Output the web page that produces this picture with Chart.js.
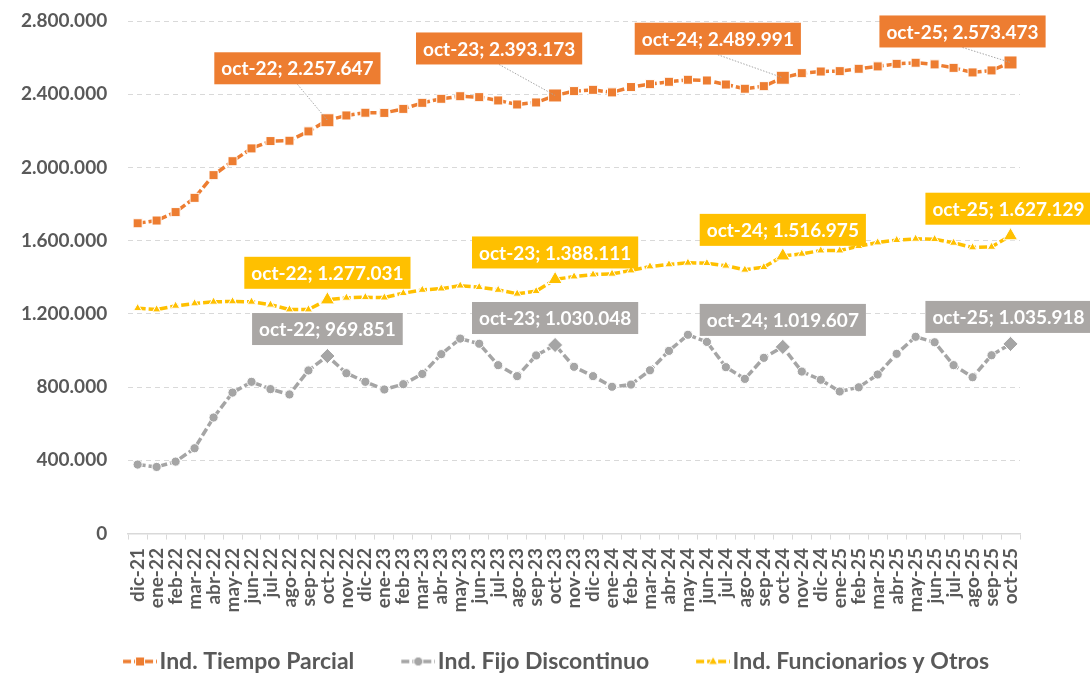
<!DOCTYPE html>
<html>
<head>
<meta charset="utf-8">
<script src="https://cdn.jsdelivr.net/npm/chart.js@4.4.1/dist/chart.umd.min.js"></script>
<style>
  html, body { margin: 0; padding: 0; background: #fff; }
  #wrap { width: 1090px; height: 675px; }
</style>
</head>
<body>
<div id="wrap"><canvas id="chart" width="1090" height="675"></canvas></div>
<script>
// Months, dic-21 .. oct-25
const labels = [
    'dic-21',
    'ene-22', 'feb-22', 'mar-22', 'abr-22', 'may-22', 'jun-22', 'jul-22', 'ago-22', 'sep-22', 'oct-22', 'nov-22', 'dic-22',
    'ene-23', 'feb-23', 'mar-23', 'abr-23', 'may-23', 'jun-23', 'jul-23', 'ago-23', 'sep-23', 'oct-23', 'nov-23', 'dic-23',
    'ene-24', 'feb-24', 'mar-24', 'abr-24', 'may-24', 'jun-24', 'jul-24', 'ago-24', 'sep-24', 'oct-24', 'nov-24', 'dic-24',
    'ene-25', 'feb-25', 'mar-25', 'abr-25', 'may-25', 'jun-25', 'jul-25', 'ago-25', 'sep-25', 'oct-25'
];

const tiempoParcial = [
    1695000,
    1710000, 1756000, 1834000, 1958000, 2034000, 2104000, 2144000, 2146000, 2197000, 2257647, 2284000, 2299000,
    2298000, 2320000, 2353000, 2375000, 2389000, 2384000, 2366000, 2344000, 2355000, 2393173, 2417000, 2424000,
    2410000, 2439000, 2455000, 2468000, 2479000, 2475000, 2453000, 2430000, 2444000, 2489991, 2515000, 2524000,
    2526000, 2539000, 2552000, 2566000, 2572000, 2563000, 2544000, 2519000, 2530000, 2573473
];

const fijoDiscontinuo = [
    377000,
    364000, 393000, 466000, 634000, 770000, 829000, 789000, 760000, 891000, 969851, 876000, 829000,
    787000, 816000, 872000, 980000, 1065000, 1037000, 920000, 860000, 973000, 1030048, 911000, 860000,
    802000, 814000, 892000, 998000, 1086000, 1047000, 909000, 845000, 960000, 1019607, 885000, 840000,
    776000, 799000, 869000, 982000, 1075000, 1045000, 920000, 854000, 974000, 1035918
];

const funcionarios = [
    1231000,
    1224000, 1244000, 1257000, 1266000, 1268000, 1266000, 1250000, 1224000, 1224000, 1277031, 1288000, 1291000,
    1289000, 1313000, 1331000, 1338000, 1354000, 1346000, 1331000, 1310000, 1324000, 1388111, 1404000, 1415000,
    1419000, 1437000, 1459000, 1470000, 1479000, 1477000, 1463000, 1441000, 1455000, 1516975, 1528000, 1546000,
    1546000, 1570000, 1590000, 1603000, 1610000, 1608000, 1588000, 1563000, 1566000, 1627129
];

const seriesNames = ['Ind. Tiempo Parcial', 'Ind. Fijo Discontinuo', 'Ind. Funcionarios y Otros'];
const yMin = 0;
const yMax = 2800000;
const yStep = 400000;

const FONT = 'Lato, "Noto Sans", sans-serif';
const TEXT = '#595959';

// october points get a bigger marker and a callout
const isOct = i => labels[i].startsWith('oct');

function fmt(v) {
    return String(v).replace(/\B(?=(\d{3})+(?!\d))/g, '.');
}

const seriesStyle = [
    { color: '#ed7d31', shape: 'rect', r: 6.4, bigShape: 'rect', bigR: 9.2, box: '#ed7d31' },
    { color: '#a5a5a5', shape: 'circle', r: 4.6, bigShape: 'rectRot', bigR: 7.6, box: '#aaa7a5' },
    { color: '#ffc000', shape: 'triangle', r: 4.8, bigShape: 'triangle', bigR: 8.2, box: '#ffc000' }
];

// callout box centre relative to the point, one per october
const calloutOffsets = [
    [[-30, -52], [-56, -47], [-65, -39], [-48, -31]],
    [[0, -27], [0, -27], [0, -27], [-2, -27]],
    [[0, -27], [0, -27], [0, -26], [-2, -27]]
];

// nudge of the legend row after layout
const legendShift = { x: 33, y: 8 };

function makeDataset(name, data, st) {
    return {
        label: name,
        data: data,
        borderColor: st.color,
        backgroundColor: st.color,
        borderWidth: 3.5,
        borderDash: [8, 3],
        tension: 0,
        pointStyle: labels.map((_, i) => isOct(i) ? st.bigShape : st.shape),
        pointRadius: labels.map((_, i) => isOct(i) ? st.bigR : st.r),
        pointBackgroundColor: st.color,
        pointBorderColor: '#ffffff',
        pointBorderWidth: 1,
        pointHoverRadius: 0
    };
}

// legend symbol: dashed line with the marker in the middle.
// the canvas is wider than the legend box so the symbol sits close to the text
const ICON_W = 51;
const ICON_OVER = 9;
function legendIcon(st) {
    const c = document.createElement('canvas');
    c.width = ICON_W + 2 * ICON_OVER;
    c.height = 20;
    const g = c.getContext('2d');
    const x1 = c.width, x0 = x1 - 34, cy = 10, cx = (x0 + x1) / 2;
    g.strokeStyle = st.color;
    g.lineWidth = 3.5;
    g.setLineDash([8, 3]);
    g.beginPath();
    g.moveTo(x0, cy);
    g.lineTo(x1, cy);
    g.stroke();
    g.setLineDash([]);
    g.fillStyle = st.color;
    g.strokeStyle = '#ffffff';
    g.lineWidth = 1;
    g.beginPath();
    if (st.shape === 'rect') {
        g.rect(cx - 4.5, cy - 4.5, 9, 9);
    } else if (st.shape === 'circle') {
        g.arc(cx, cy, 4.6, 0, Math.PI * 2);
    } else {
        g.moveTo(cx, cy - 5);
        g.lineTo(cx + 4.5, cy + 3);
        g.lineTo(cx - 4.5, cy + 3);
        g.closePath();
    }
    g.fill();
    g.stroke();
    return c;
}

const legendNudge = {
    id: 'legendNudge',
    afterLayout(chart) {
        const lg = chart.legend;
        lg.left += legendShift.x;
        lg.right += legendShift.x;
        lg.top += legendShift.y;
        lg.bottom += legendShift.y;
    }
};

const calloutPlugin = {
    id: 'callouts',
    afterDatasetsDraw(chart) {
        const ctx = chart.ctx;
        ctx.save();
        ctx.font = 'bold 19px ' + FONT;
        ctx.textAlign = 'center';
        ctx.textBaseline = 'middle';
        chart.data.datasets.forEach((ds, di) => {
            const meta = chart.getDatasetMeta(di);
            const st = seriesStyle[di];
            let k = 0;
            labels.forEach((lab, i) => {
                if (!isOct(i)) return;
                const pt = meta.data[i];
                const off = calloutOffsets[di][k++];
                const text = lab + '; ' + fmt(ds.data[i]);
                const w = ctx.measureText(text).width + 14;
                const h = 32;
                const cx = pt.x + off[0];
                const cy = pt.y + off[1];
                if (di === 0) {
                    ctx.strokeStyle = '#a6a6a6';
                    ctx.lineWidth = 1;
                    ctx.setLineDash([1.5, 1.5]);
                    ctx.beginPath();
                    ctx.moveTo(cx, cy + h / 2);
                    ctx.lineTo(pt.x, pt.y);
                    ctx.stroke();
                    ctx.setLineDash([]);
                }
                ctx.fillStyle = st.box;
                ctx.fillRect(cx - w / 2, cy - h / 2, w, h);
                ctx.fillStyle = '#ffffff';
                ctx.fillText(text, cx, cy + 1);
            });
        });
        ctx.restore();
    }
};

new Chart(document.getElementById('chart'), {
    type: 'line',
    data: {
        labels: labels,
        datasets: [
            makeDataset(seriesNames[0], tiempoParcial, seriesStyle[0]),
            makeDataset(seriesNames[1], fijoDiscontinuo, seriesStyle[1]),
            makeDataset(seriesNames[2], funcionarios, seriesStyle[2])
        ]
    },
    options: {
        responsive: false,
        animation: false,
        devicePixelRatio: 1,
        layout: { autoPadding: false, padding: { left: 0, right: 70, top: 21, bottom: 0 } },
        plugins: {
            tooltip: { enabled: false },
            legend: {
                position: 'bottom',
                labels: {
                    usePointStyle: true,
                    pointStyleWidth: ICON_W,
                    padding: 21,
                    color: TEXT,
                    font: { family: FONT, size: 23, weight: 'bold' },
                    generateLabels(chart) {
                        return chart.data.datasets.map((ds, i) => ({
                            text: ds.label,
                            pointStyle: legendIcon(seriesStyle[i]),
                            fillStyle: ds.borderColor,
                            strokeStyle: ds.borderColor,
                            lineWidth: 0,
                            fontColor: TEXT,
                            hidden: false,
                            datasetIndex: i
                        }));
                    }
                }
            }
        },
        scales: {
            x: {
                offset: true,
                grid: {
                    offset: true,
                    drawOnChartArea: false,
                    drawTicks: true,
                    tickLength: 6,
                    color: '#d9d9d9'
                },
                border: { color: '#d9d9d9', width: 1.5 },
                ticks: {
                    autoSkip: false,
                    minRotation: 90,
                    maxRotation: 90,
                    padding: 8.5,
                    color: TEXT,
                    font: { family: FONT, size: 19, weight: 'bold' }
                }
            },
            y: {
                min: yMin,
                max: yMax,
                // the tick padding would otherwise also push the plot down
                afterFit(scale) { scale.paddingTop = 0; },
                grid: { color: '#d9d9d9', drawTicks: false, lineWidth: 1 },
                border: { display: false, dash: [5, 4] },
                ticks: {
                    stepSize: yStep,
                    padding: 21,
                    color: TEXT,
                    font: { family: FONT, size: 19, weight: 'bold' },
                    callback: v => fmt(v)
                }
            }
        }
    },
    plugins: [calloutPlugin, legendNudge]
});
</script>
</body>
</html>
